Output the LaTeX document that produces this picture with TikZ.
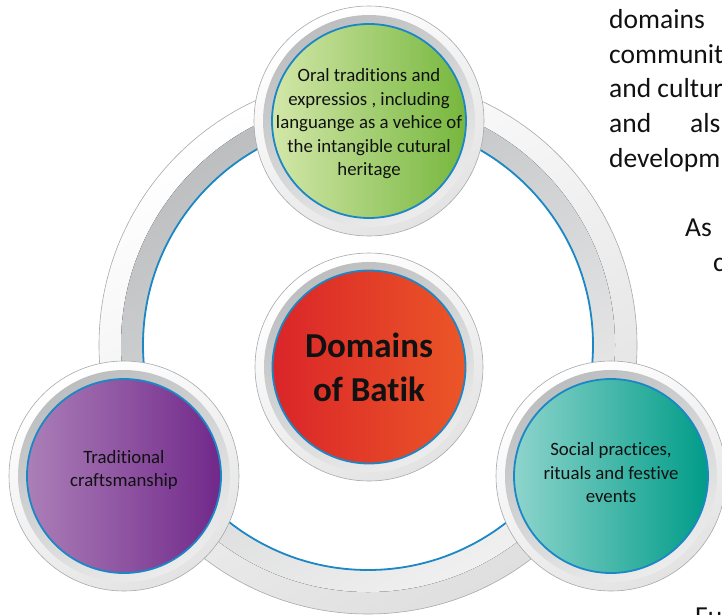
\documentclass[tikz,border=0pt]{standalone}
\usepackage{fontspec}
\setmainfont{Carlito}[Ligatures=NoCommon]
\usetikzlibrary{positioning}
\definecolor{ringblue}{HTML}{1B87C5}
\definecolor{rimgray}{HTML}{A7A9AC}
\definecolor{bandgray}{HTML}{BCBEC0}
\definecolor{greenL}{HTML}{D3E7A9}
\definecolor{greenR}{HTML}{76B73D}
\definecolor{purpleL}{HTML}{AB7FB8}
\definecolor{purpleR}{HTML}{71288A}
\definecolor{tealL}{HTML}{8DD4CC}
\definecolor{tealM}{HTML}{00B4A6}
\definecolor{tealR}{HTML}{009C88}
\definecolor{redL}{HTML}{DA2529}
\definecolor{redM}{HTML}{EF6C33}
\definecolor{redR}{HTML}{EB5627}
\definecolor{inktext}{HTML}{111111}

\begin{document}
\begin{tikzpicture}[x=1pt, y=-1pt,
    rim/.style={circle, draw=rimgray, line width=0.6pt, top color=white, bottom color=gray!22, shading angle=30, minimum size=230pt, inner sep=0pt},
    band/.style={circle, top color=bandgray, bottom color=gray!15, shading angle=30, minimum size=212pt, inner sep=0pt},
    core/.style={circle, draw=ringblue, line width=1.8pt, minimum size=194pt, inner sep=0pt},
    domaintext/.style={align=center, text=inktext, font=\fontsize{18.8}{23.5}\selectfont},
    pagetext/.style={anchor=base west, text=inktext, inner sep=0pt, font=\fontsize{27.5}{34}\selectfont}
]
    \useasboundingbox (0,0) rectangle (722,614);
    \clip (0,0) rectangle (722,614);

    % big ring behind the three domains
    \coordinate (ringc) at (368,345);
    \draw[draw=rimgray, line width=0.6pt, top color=white, bottom color=gray!25, shading angle=30] (ringc) circle (269);
    \fill[top color=bandgray, bottom color=gray!12, shading angle=30] (ringc) circle (247);
    \draw[ringblue, line width=1.8pt, fill=white] (ringc) circle (225);

    % top domain
    \node[rim] (oralrim) at (369,121) {};
    \node[band] at (oralrim) {};
    \node[core, left color=greenL, right color=greenR] (oral) at (oralrim) {};
    \node[domaintext] at ([yshift=-3pt]oral.center) {Oral traditions and\\expressios , including\\languange as a vehice of\\the intangible cutural\\heritage};

    % left domain
    \node[rim] (craftrim) at (124,476) {};
    \node[band] at (craftrim) {};
    \node[core, left color=purpleL, right color=purpleR] (craft) at (craftrim) {};
    \node[domaintext] at ([yshift=6pt]craft.center) {Traditional\\craftsmanship};

    % right domain
    \node[rim] (socialrim) at (611,476) {};
    \node[band] at (socialrim) {};
    \node[core, left color=tealL, middle color=tealM, right color=tealR] (social) at (socialrim) {};
    \node[domaintext] at ([yshift=3pt]social.center) {Social practices,\\rituals and festive\\events};

    % centre
    \node[rim, minimum size=228pt] (batikrim) at (369,367) {};
    \node[band, minimum size=210pt] at (batikrim) {};
    \node[core, minimum size=193pt, left color=redL, middle color=redM, right color=redR] (batik) at (batikrim) {};
    \node[domaintext, font=\bfseries\fontsize{35}{44}\selectfont] at (batik) {Domains\\of Batik};

    % text of the page, cut at the edge
    \node[pagetext] (p1) at (609,28) {domains};
    \node[pagetext] (p2) at (609,63) {communit};
    \node[pagetext] (p3) at (609,97) {and cultur};
    \node[pagetext] (p4) at (609,132) {and};
    \node[pagetext] (p4b) at (690,132) {als};
    \node[pagetext] (p5) at (609,167) {developm};
    \node[pagetext] (p6) at (685,236) {As};
    \node[pagetext] (p7) at (713,271) {c};
    \node[pagetext] (p8) at (695,625) {Fu};
\end{tikzpicture}
\end{document}
